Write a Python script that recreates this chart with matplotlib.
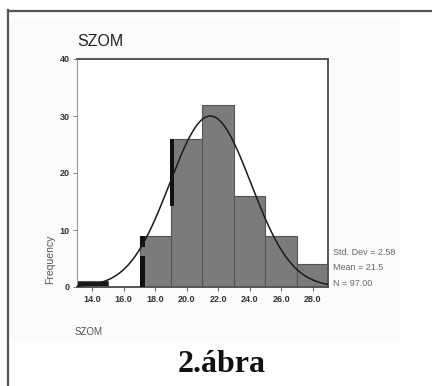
import numpy as np
import matplotlib
matplotlib.use("Agg")
import matplotlib.pyplot as plt
from matplotlib.lines import Line2D
from matplotlib.patches import Rectangle

# histogram of SZOM, bins of width 2
bin_centers = [14, 16, 18, 20, 22, 24, 26, 28]
counts = [1, 0, 9, 26, 32, 16, 9, 4]
bar_colors = ["#161616", "#ffffff", "#7b7b7b", "#7b7b7b", "#7b7b7b", "#7b7b7b", "#7b7b7b", "#7b7b7b"]
tick_labels = ["14.0", "16.0", "18.0", "20.0", "22.0", "24.0", "26.0", "28.0"]

mean = 21.5
std_dev = 2.58
n_total = 97
bin_width = 2.0

# dark streaks left by the copier along two bar edges
streak_left = [17.0, 17.0, 18.95]
streak_width = [0.36, 0.36, 0.25]
streak_bottom = [0.0, 7.1, 14.2]
streak_top = [5.4, 9.0, 26.0]

W, H = 432, 386
fig = plt.figure(figsize=(W / 100, H / 100), dpi=100)
fig.patch.set_facecolor("white")
plt.rcParams["font.family"] = ["Liberation Sans", "DejaVu Sans"]


def fx(px):
    return px / W


def fy(py):
    return 1 - py / H


# faint grey of the scanned page and its border
fig.patches.append(Rectangle((fx(10), fy(340)), fx(390), (340 - 18) / H,
                             transform=fig.transFigure, facecolor="#fbfbfb",
                             edgecolor="none", zorder=-5))
fig.lines.append(Line2D([fx(8), fx(432)], [fy(10.5), fy(10.5)], transform=fig.transFigure,
                        color="#555555", lw=1.6))
fig.lines.append(Line2D([fx(8.3), fx(8.3)], [fy(10), fy(386)], transform=fig.transFigure,
                        color="#555555", lw=1.6))

ax = fig.add_axes([fx(76.6), fy(287), fx(328.3 - 76.6), (287 - 59) / H])
ax.set_facecolor("white")
ax.set_zorder(1)

ax.bar(bin_centers, counts, width=bin_width, color=bar_colors,
       edgecolor="#555555", linewidth=0.8, zorder=2)
ax.bar(streak_left, np.array(streak_top) - np.array(streak_bottom), width=streak_width,
       bottom=streak_bottom, align="edge", color="#111111", linewidth=0, zorder=3)

xs = np.linspace(13, 29, 300)
curve = n_total * bin_width / (std_dev * np.sqrt(2 * np.pi)) * np.exp(-0.5 * ((xs - mean) / std_dev) ** 2)
ax.plot(xs, curve, color="#1a1a1a", lw=1.1, zorder=4)

ax.set_xlim(13, 29)
ax.set_ylim(0, 40)
ax.set_xticks(bin_centers)
ax.set_xticklabels(tick_labels)
ax.set_yticks([0, 10, 20, 30, 40])
ax.tick_params(axis="x", length=3, width=0.6, color="#444444", labelsize=6.5,
               labelcolor="#333333", pad=3)
ax.tick_params(axis="y", length=3, width=0.6, color="#777777", labelsize=6.5,
               labelcolor="#333333", pad=2)
for lab in ax.get_yticklabels() + ax.get_xticklabels():
    lab.set_fontweight("bold")

for side in ["top", "right", "bottom"]:
    ax.spines[side].set_color("#555555")
    ax.spines[side].set_linewidth(1.4)
ax.spines["left"].set_color("#999999")
ax.spines["left"].set_linewidth(0.8)

fig.text(fx(77), fy(42), "SZOM", fontsize=11.5, color="#222222", va="center", ha="left")
fig.text(fx(75), fy(332), "SZOM", fontsize=7, color="#555555", va="center", ha="left")
fig.text(fx(50), fy(259), "Frequency", fontsize=7.5, color="#555555", rotation=90,
         va="center", ha="center")

stats = ["Std. Dev = %.2f" % std_dev, "Mean = %.1f" % mean, "N = %.2f" % n_total]
for label, py in zip(stats, [252.7, 267.5, 284]):
    fig.text(fx(333), fy(py), label, fontsize=6.5, color="#666666", va="center", ha="left")

fig.text(fx(222), fy(364), "2.ábra", fontsize=23, fontweight="bold", color="#111111",
         family=["Liberation Serif", "DejaVu Serif"], va="center", ha="center")

fig.savefig("out.png", dpi=100)
